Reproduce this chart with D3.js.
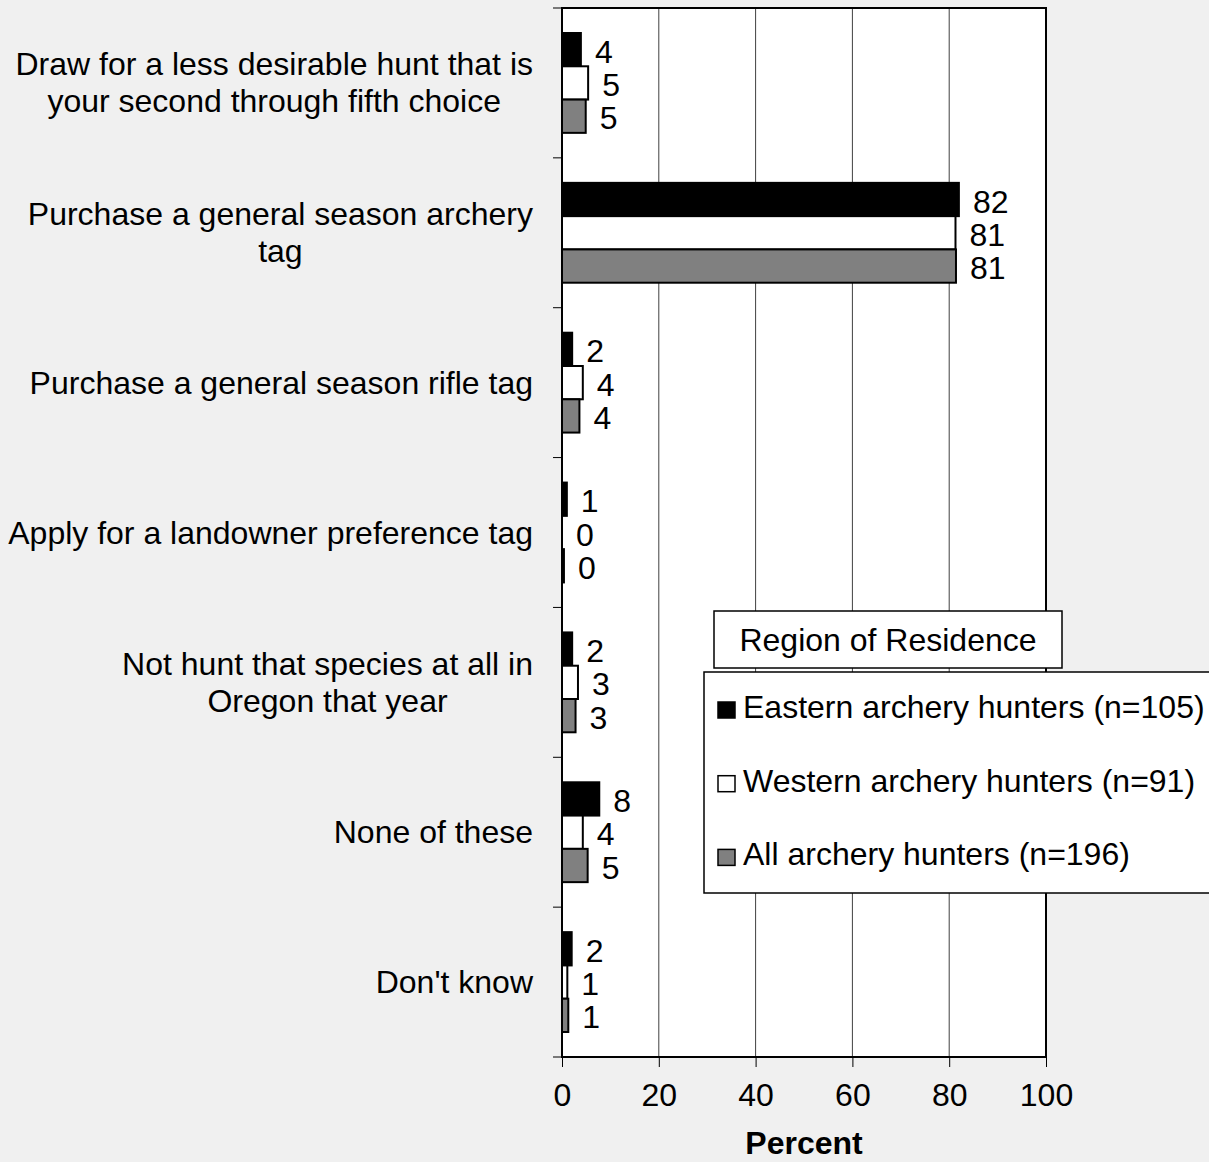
<!DOCTYPE html>
<html><head><meta charset="utf-8">
<script src="https://cdn.jsdelivr.net/npm/d3@7"></script>
<style>body{margin:0;background:#f0f0f0;} svg{display:block;} text{font-family:"Liberation Sans",Arial,sans-serif;}</style>
</head><body>
<svg id="c" width="1209" height="1162"></svg>
<script>
const categories = [
  ["Draw for a less desirable hunt that is","your second through fifth choice"],
  ["Purchase a general season archery","tag"],
  ["Purchase a general season rifle tag"],
  ["Apply for a landowner preference tag"],
  ["Not hunt that species at all in","Oregon that year"],
  ["None of these"],
  ["Don't know"]
];
const seriesNames = ["Eastern archery hunters (n=105)","Western archery hunters (n=91)","All archery hunters (n=196)"];
const eastern = [3.9, 82.0, 2.1, 1.0, 2.1, 7.7, 2.0];
const western = [5.4, 81.3, 4.3, 0.0, 3.3, 4.3, 1.1];
const allHunters = [4.9, 81.4, 3.6, 0.4, 2.8, 5.3, 1.3];
const xTicks = [0,20,40,60,80,100];
const legendTitle = "Region of Residence";
const axisTitle = "Percent";

const fills = ["#000000","#ffffff","#808080"];
const series = [eastern, western, allHunters];

const svg = d3.select("#c");
const L=562, R=1046, T=8, B=1057;
const x = d3.scaleLinear().domain([0,100]).range([L,R]);
const y = d3.scaleBand().domain(d3.range(categories.length)).range([T,B]).paddingInner(0).paddingOuter(0);
const inner = d3.scaleBand().domain(d3.range(3)).range([25, y.bandwidth()-25]);

svg.append("rect").attr("width",1209).attr("height",1162).attr("fill","#f0f0f0");
svg.append("rect").attr("x",L).attr("y",T).attr("width",R-L).attr("height",B-T).attr("fill","#fff");

// gridlines
svg.append("g").selectAll("line").data(xTicks.filter(t=>t>0&&t<100)).join("line")
  .attr("x1",d=>x(d)).attr("x2",d=>x(d)).attr("y1",T).attr("y2",B)
  .attr("stroke","#404040").attr("stroke-width",1);

// bars
series.forEach((vals,si)=>{
  const g = svg.append("g");
  g.selectAll("rect").data(vals).join("rect")
    .attr("x",x(0)).attr("y",(d,i)=>y(i)+inner(si))
    .attr("width",d=>x(d)-x(0)).attr("height",inner.bandwidth())
    .attr("fill",fills[si]).attr("stroke","#000").attr("stroke-width",2);
  g.selectAll("text").data(vals).join("text")
    .attr("x",d=>x(d)+14).attr("y",(d,i)=>y(i)+inner(si)+inner.bandwidth()/2+13)
    .attr("font-size",32).attr("fill","#000")
    .text(d=>Math.round(d));
});

// plot border
svg.append("rect").attr("x",L).attr("y",T).attr("width",R-L).attr("height",B-T)
  .attr("fill","none").attr("stroke","#000").attr("stroke-width",2);

// y ticks
svg.append("g").selectAll("line").data(d3.range(categories.length+1)).join("line")
  .attr("x1",L-9).attr("x2",L).attr("y1",d=>T+d*y.bandwidth()).attr("y2",d=>T+d*y.bandwidth())
  .attr("stroke","#000").attr("stroke-width",1);

// x axis
const xa = svg.append("g").attr("transform",`translate(0,${B})`)
  .call(d3.axisBottom(x).tickValues(xTicks).tickSize(10).tickPadding(16).tickFormat(d3.format("d")));
xa.select(".domain").remove();
xa.selectAll(".tick line").attr("stroke","#000").attr("stroke-width",1);
xa.selectAll(".tick text").attr("font-size",32).attr("font-family","Liberation Sans, Arial, sans-serif").attr("fill","#000").attr("dy",null).attr("y",49);

svg.append("text").attr("x",(L+R)/2).attr("y",1154).attr("text-anchor","middle")
  .attr("font-size",32).attr("font-weight","bold").text(axisTitle);

// category labels
categories.forEach((lines,i)=>{
  const cy = y(i)+y.bandwidth()/2;
  const lh = 37;
  const g = svg.append("g");
  const ts = lines.map((ln,j)=>g.append("text").attr("font-size",32).attr("text-anchor","middle")
    .attr("y",cy + (j-(lines.length-1)/2)*lh + 11).text(ln));
  const maxW = d3.max(ts, t=>t.node().getComputedTextLength());
  ts.forEach(t=>t.attr("x",533-maxW/2));
});

// legend
svg.append("rect").attr("x",714).attr("y",611).attr("width",348).attr("height",57)
  .attr("fill","#fff").attr("stroke","#000").attr("stroke-width",1.5);
svg.append("text").attr("x",888).attr("y",651).attr("text-anchor","middle").attr("font-size",32).text(legendTitle);
svg.append("rect").attr("x",704).attr("y",672).attr("width",510).attr("height",221)
  .attr("fill","#fff").attr("stroke","#000").attr("stroke-width",1.5);
const lg = svg.append("g").selectAll("g").data(seriesNames).join("g")
  .attr("transform",(d,i)=>`translate(718,${702+i*73.7})`);
lg.append("rect").attr("width",17).attr("height",16).attr("fill",(d,i)=>fills[i]).attr("stroke","#000").attr("stroke-width",1.5);
lg.append("text").attr("x",25).attr("y",16).attr("font-size",32).text(d=>d);
</script>
</body></html>
